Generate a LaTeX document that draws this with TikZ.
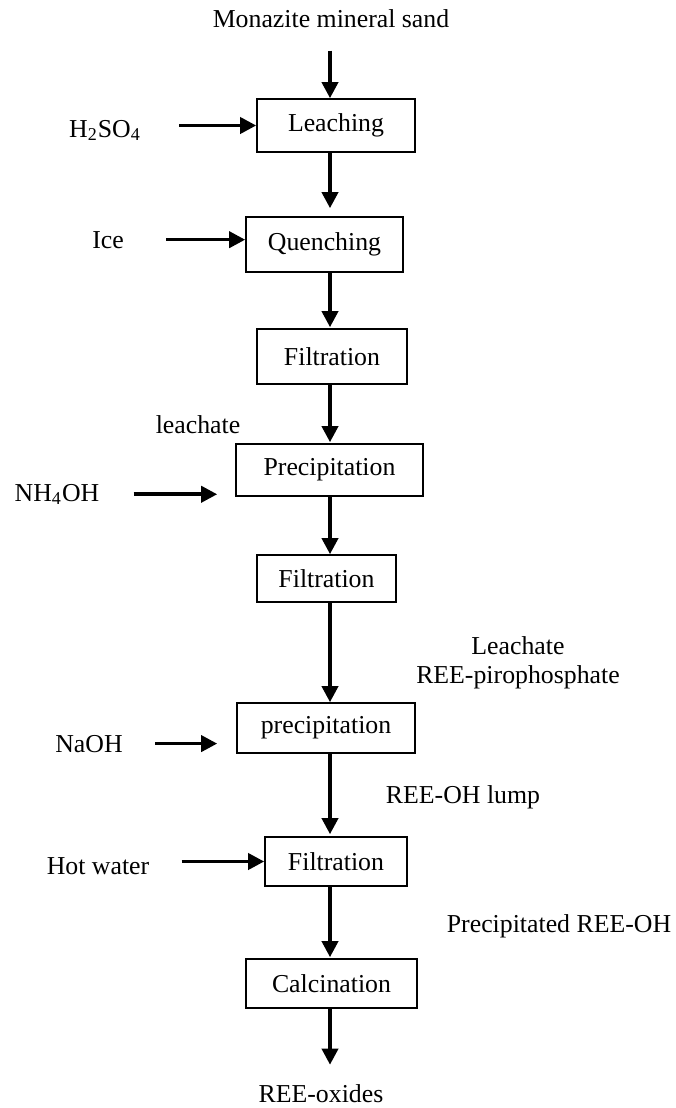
\documentclass[tikz,border=0pt]{standalone}
\usepackage{fontspec}
\setmainfont{Liberation Serif}
\usepackage{tikz}
\usetikzlibrary{arrows.meta,calc}
\tikzstyle{stage}=[rectangle, draw, line width=0.8pt, inner sep=0pt, font=\fontsize{12.9}{15}\selectfont]
\tikzstyle{stream}=[inner sep=0pt, anchor=base, font=\fontsize{12.9}{15}\selectfont]
\tikzstyle{flowarrow}=[-{Triangle[length=8pt,width=8pt]}, line width=1.8pt]

\begin{document}
\begin{tikzpicture}[x=0.5pt, y=-0.5pt]
    \useasboundingbox (0,0) rectangle (675,1108);
    \coordinate (axis) at (330,0);

    % --- etapas ---
    \node[stage, minimum width=79pt,   minimum height=26.5pt] (leach)   at (336,125.5)   {Leaching};
    \node[stage, minimum width=78.5pt, minimum height=27.5pt] (quench)  at (324.5,244.5) {Quenching};
    \node[stage, minimum width=75pt,   minimum height=27.5pt] (filtA)   at (332,356.5)   {Filtration};
    \node[stage, minimum width=93.5pt, minimum height=26pt]   (precA)   at (329.5,470)   {Precipitation};
    \node[stage, minimum width=69.5pt, minimum height=23.5pt] (filtB)   at (326.5,578.5) {Filtration};
    \node[stage, minimum width=89pt,   minimum height=25pt]   (precB)   at (326,728)     {precipitation};
    \node[stage, minimum width=71pt,   minimum height=24.5pt] (filtC)   at (336,861.5)   {Filtration};
    \node[stage, minimum width=85.5pt, minimum height=24.5pt] (calcin)  at (331.5,983.5) {Calcination};

    % --- correntes ---
    \node[stream] (sand)    at (331,27)   {Monazite mineral sand};
    \node[stream] (acid)    at (105,137)  {H\textsubscript{2}SO\textsubscript{4}};
    \node[stream] (ice)     at (108,248)  {Ice};
    \node[stream] (leachA)  at (198,433)  {leachate};
    \node[stream] (ammonia) at (57,501)   {NH\textsubscript{4}OH};
    \node[stream] (leachB)  at (518,654)  {Leachate};
    \node[stream] (pyro)    at (518,683)  {REE-pirophosphate};
    \node[stream] (soda)    at (89,752)   {NaOH};
    \node[stream] (lump)    at (463,803)  {REE-OH lump};
    \node[stream] (water)   at (98,874)   {Hot water};
    \node[stream] (hydrox)  at (559,932)  {Precipitated REE-OH};
    \node[stream] (oxides)  at (321,1102) {REE-oxides};

    % fluxo principal
    \draw[flowarrow, shorten <=11.5pt] (sand.south -| axis) -- (leach.north -| axis);
    \foreach \a/\b/\g in {leach/quench/4pt, quench/filtA/0.5pt, filtA/precA/0.5pt,
                          precA/filtB/0pt, filtB/precB/0pt, precB/filtC/1pt,
                          filtC/calcin/0.5pt} {
      \draw[flowarrow, shorten >=\g] (\a.south -| axis) -- (\b.north -| axis);
    }
    \draw[flowarrow, shorten >=9.5pt] (calcin.south -| axis) -- (oxides.north -| axis);

    % reagentes
    \draw[flowarrow, shorten <=19pt] (acid.east |- leach.west) -- (leach.west);
    \draw[flowarrow, shorten <=21pt] (ice.east) -- (ice.east -| quench.west);
    \draw[flowarrow, shorten <=17pt, shorten >=9pt] (ammonia.east) -- (ammonia.east -| precA.west);
    \draw[flowarrow, shorten <=16pt, shorten >=9.5pt] (soda.east) -- (soda.east -| precB.west);
    \draw[flowarrow, shorten <=16pt] (water.east |- filtC.west) -- (filtC.west);
\end{tikzpicture}
\end{document}
